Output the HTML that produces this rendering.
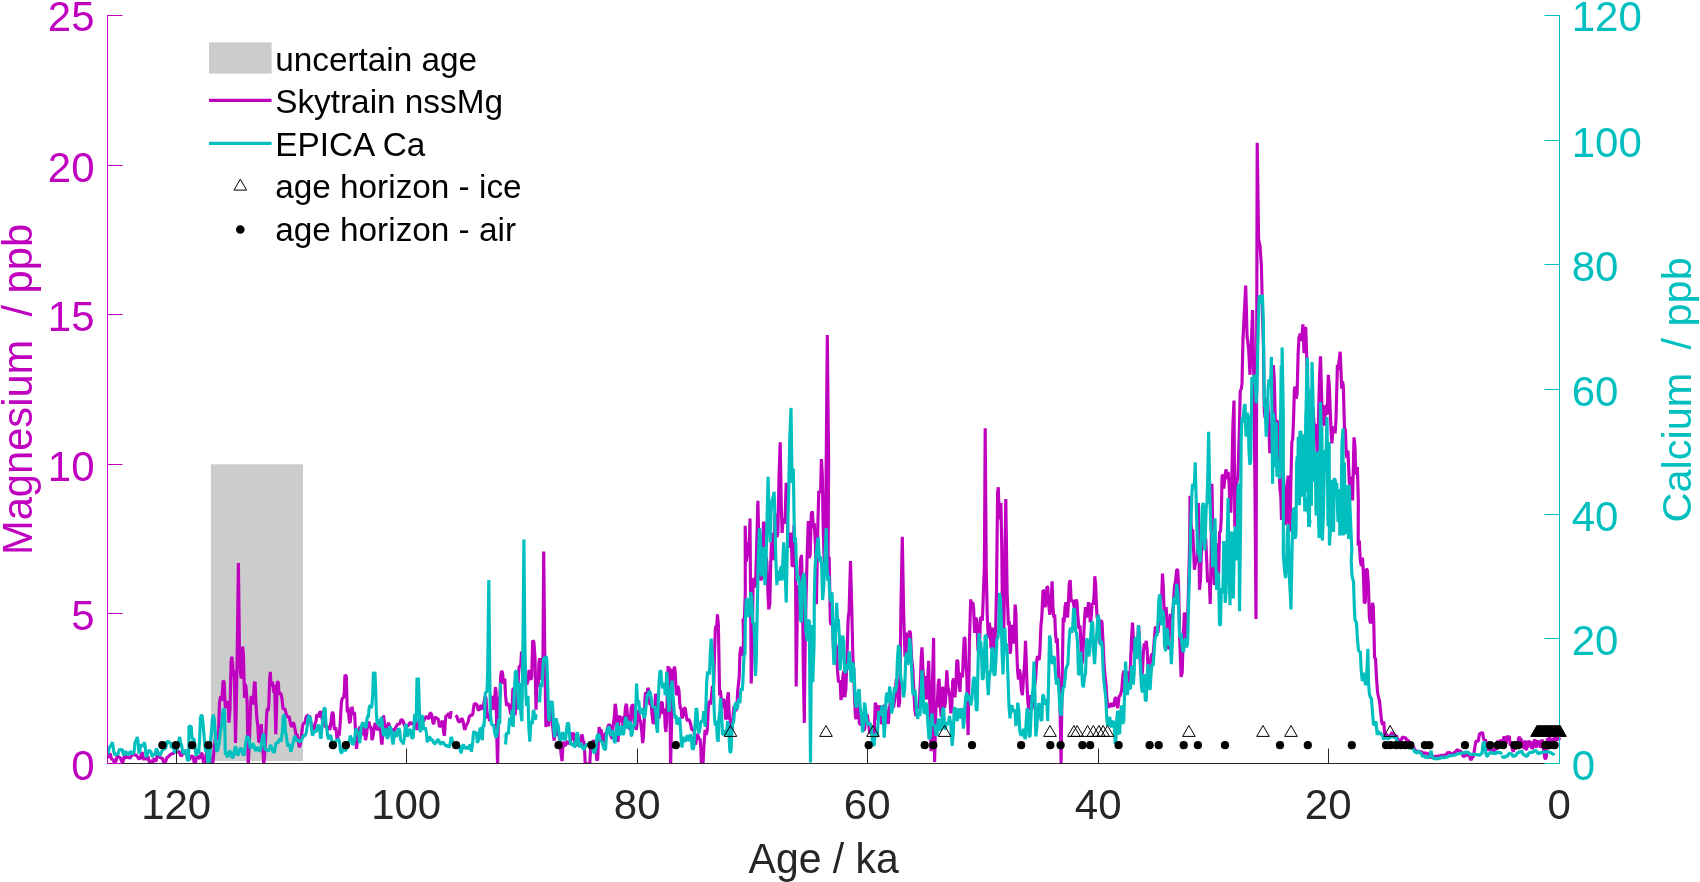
<!DOCTYPE html>
<html><head><meta charset="utf-8"><title>Age / ka</title><style>html,body{margin:0;padding:0;background:#fff}body{width:1700px;height:882px;overflow:hidden}</style></head><body>
<svg width="1700" height="882" viewBox="0 0 1700 882" style="display:block;will-change:transform;opacity:0.999" font-family="'Liberation Sans', Arial, sans-serif">
<rect width="1700" height="882" fill="#fff"/>
<defs><clipPath id="c"><rect x="107.5" y="15.5" width="1460.0" height="748.0"/></clipPath></defs>
<rect x="210.9" y="464.3" width="92.1" height="296.7" fill="#CCCCCC"/>
<path d="M107.7,758.1 L109.0,754.7 L110.3,753.7 L111.2,758.0 L112.1,759.8 L113.0,759.1 L113.8,761.6 L114.9,762.3 L116.1,760.7 L116.9,756.9 L117.8,755.4 L118.7,757.5 L119.6,757.2 L120.5,758.3 L121.4,760.7 L122.2,762.1 L123.1,761.6 L124.0,757.4 L124.9,755.4 L126.0,757.7 L127.1,757.2 L128.4,757.2 L129.8,758.1 L131.1,756.7 L132.4,753.7 L133.3,751.9 L134.2,754.3 L135.1,755.4 L136.4,754.9 L137.7,757.2 L139.0,759.0 L140.4,758.1 L141.3,754.4 L142.1,751.9 L143.0,757.6 L143.9,759.8 L145.0,757.6 L146.1,759.0 L147.0,759.0 L147.9,756.3 L149.2,761.6 L150.1,762.6 L151.0,760.7 L151.9,761.2 L152.7,762.9 L154.1,758.5 L155.0,759.6 L155.8,761.6 L157.2,756.3 L158.5,755.7 L159.8,757.2 L161.1,758.1 L162.5,758.1 L163.8,763.4 L164.9,762.7 L166.0,760.7 L166.9,757.2 L168.2,756.9 L169.5,755.4 L170.9,754.2 L172.2,753.7 L173.5,753.2 L174.8,751.0 L175.7,750.7 L176.6,751.9 L177.5,752.6 L178.4,751.0 L179.3,751.9 L180.2,754.5 L181.0,756.1 L181.9,755.4 L183.0,752.6 L184.1,751.9 L185.5,753.7 L186.8,754.9 L188.1,759.0 L189.6,759.5 L191.1,756.1 L192.5,756.3 L193.4,757.2 L194.3,763.4 L195.2,764.0 L196.1,759.0 L197.4,755.9 L198.7,758.1 L200.0,758.0 L201.4,752.8 L202.4,754.7 L203.4,762.1 L204.5,764.3 L205.4,761.0 L206.2,753.7 L207.1,751.1 L208.0,751.0 L209.1,757.2 L210.2,757.2 L211.1,758.2 L212.0,765.2 L213.1,761.3 L214.2,748.4 L215.5,737.7 L216.6,739.7 L217.7,736.0 L218.1,735.7 L218.8,725.1 L219.5,702.4 L220.6,696.4 L221.7,700.9 L222.4,692.5 L223.1,680.6 L224.1,682.1 L225.3,708.2 L226.5,703.8 L227.5,700.9 L228.2,705.3 L228.9,722.7 L230.0,709.9 L231.1,661.8 L231.8,656.8 L232.6,663.2 L233.3,675.5 L234.0,670.5 L234.7,693.3 L235.5,743.0 L236.3,706.6 L237.2,654.5 L238.4,563.1 L239.5,654.5 L240.5,673.4 L241.3,678.4 L242.0,651.6 L242.7,646.6 L243.4,654.5 L244.5,698.0 L245.2,684.0 L245.9,686.4 L247.1,700.9 L248.2,766.2 L249.5,739.0 L250.7,702.4 L251.4,695.9 L252.1,700.9 L253.2,704.4 L254.3,683.5 L255.1,681.7 L255.8,700.9 L256.9,718.3 L257.8,725.8 L258.7,741.6 L259.4,741.6 L260.1,732.8 L261.3,724.1 L262.3,741.6 L263.0,750.3 L263.8,766.2 L264.8,752.6 L265.9,732.8 L266.7,713.2 L267.4,708.2 L268.1,711.0 L268.8,705.3 L269.6,679.9 L270.3,671.9 L271.0,685.6 L271.7,685.0 L272.5,681.8 L273.2,687.9 L273.9,692.9 L274.6,685.0 L275.8,734.3 L276.5,711.5 L277.2,682.1 L278.3,682.1 L279.0,693.4 L279.7,693.7 L280.8,693.2 L281.9,698.0 L283.0,708.2 L284.1,709.6 L284.8,708.1 L285.5,711.1 L286.6,715.6 L287.7,716.9 L289.1,716.6 L290.6,724.1 L291.7,726.9 L292.8,722.7 L293.9,723.6 L294.9,728.5 L296.0,734.7 L297.1,734.3 L298.2,739.3 L299.3,747.4 L300.4,743.7 L301.5,735.7 L302.6,725.9 L303.7,722.7 L304.7,723.6 L305.8,718.3 L306.9,715.5 L308.0,715.4 L308.7,719.3 L309.5,715.4 L310.5,719.8 L311.6,727.0 L312.7,730.6 L313.8,731.4 L314.9,724.1 L316.0,721.2 L316.7,715.4 L317.4,714.8 L318.2,716.9 L318.9,716.1 L319.6,712.5 L320.3,711.6 L321.1,712.5 L321.8,717.8 L322.5,721.2 L323.2,720.6 L324.0,724.1 L325.4,726.9 L326.9,727.0 L328.3,726.3 L329.8,729.9 L330.9,723.6 L331.9,714.0 L332.7,711.9 L333.4,715.4 L334.1,727.1 L334.8,729.9 L335.6,727.2 L336.3,731.4 L337.0,738.8 L337.7,738.7 L338.5,730.8 L339.2,735.7 L340.3,721.7 L341.4,702.4 L342.5,697.6 L343.5,698.0 L344.3,692.8 L345.0,674.8 L346.3,676.3 L347.3,712.5 L348.1,707.5 L348.8,715.4 L349.5,722.3 L350.2,722.7 L351.2,711.7 L352.1,706.7 L353.0,714.8 L353.9,712.5 L354.6,713.5 L355.3,727.0 L356.5,748.8 L357.5,741.6 L358.2,738.2 L358.9,729.9 L360.0,726.4 L361.1,732.8 L362.2,735.1 L363.3,727.0 L364.4,729.6 L365.5,740.1 L366.6,734.7 L367.6,724.1 L368.4,722.0 L369.1,722.7 L369.8,726.0 L370.5,727.0 L371.3,729.5 L372.0,740.1 L373.1,736.0 L374.2,727.0 L375.3,722.9 L376.3,727.0 L377.4,730.0 L378.5,728.5 L379.6,726.2 L380.7,732.8 L381.4,742.2 L382.1,744.5 L382.9,727.7 L383.6,715.4 L384.3,722.9 L385.1,727.0 L385.8,726.5 L386.5,732.8 L387.2,729.9 L388.0,724.1 L388.7,722.9 L389.4,725.6 L390.5,731.9 L391.6,732.8 L392.3,728.9 L393.0,729.9 L394.5,730.1 L395.9,727.0 L397.4,724.6 L398.8,724.1 L399.9,723.6 L401.0,719.8 L402.1,719.8 L403.2,721.2 L404.3,724.7 L405.4,727.0 L406.4,725.3 L407.5,725.6 L408.6,725.4 L409.7,722.7 L410.8,722.7 L411.9,724.1 L413.3,723.5 L414.8,721.2 L415.9,724.4 L417.0,729.9 L418.1,726.3 L419.1,719.8 L420.6,719.7 L422.0,721.2 L423.5,721.2 L424.9,718.3 L426.4,716.0 L427.8,718.3 L428.9,718.6 L430.0,713.3 L431.1,713.1 L432.2,716.9 L432.9,722.3 L433.7,724.1 L434.7,718.6 L435.8,716.9 L436.9,718.9 L438.0,718.3 L438.7,721.6 L439.5,727.0 L440.5,725.9 L441.6,722.7 L442.4,720.6 L443.1,725.6 L443.8,733.6 L444.5,735.7 L445.3,722.0 L446.0,715.4 L447.1,715.9 L448.2,714.0 L448.9,713.2 L449.6,718.3 L450.3,717.4 L451.1,711.1" fill="none" stroke="#BF00BF" stroke-width="3.15" stroke-linejoin="bevel" clip-path="url(#c)"/>
<path d="M455.4,715.4 L456.9,716.5 L458.3,721.2 L459.8,722.1 L461.2,719.1 L462.3,718.8 L463.4,722.7 L464.1,727.4 L464.8,729.9 L465.9,726.4 L467.0,724.1 L468.1,721.9 L469.2,716.9 L470.6,715.0 L472.1,715.4 L472.8,713.9 L473.5,708.2 L474.3,703.9 L475.0,703.8 L475.8,703.8 L476.9,704.5 L478.0,709.6 L479.1,710.2 L480.2,706.7 L481.2,705.2 L482.3,709.6 L483.4,706.1 L484.5,699.5 L485.2,696.2 L486.0,698.0 L486.7,710.0 L487.4,718.3 L488.5,713.3 L489.6,721.2 L490.3,714.7 L491.0,700.9 L492.1,695.9 L493.2,709.6 L493.9,707.7 L494.7,698.0 L495.4,687.2 L496.1,692.2 L496.8,735.4 L497.6,766.2 L498.3,725.2 L499.0,698.0 L499.9,696.6 L500.8,674.8 L501.7,670.9 L502.6,673.4 L503.4,682.1 L504.1,683.5 L504.8,678.5 L505.5,695.1 L506.6,705.8 L507.7,703.8 L508.8,704.2 L509.9,709.6 L511.0,714.6 L512.1,706.7 L512.8,690.1 L513.5,687.9 L514.2,704.4 L515.0,715.4 L516.1,702.3 L517.1,698.0 L517.9,688.5 L518.6,673.4 L519.3,666.0 L520.1,666.1 L520.8,664.4 L521.5,651.6 L522.2,657.6 L523.0,669.0 L523.7,679.0 L524.4,677.7 L525.1,678.6 L525.9,683.5 L526.9,684.4 L528.0,680.6 L529.1,669.9 L530.2,673.4 L530.9,679.8 L531.7,676.3 L532.7,640.6 L533.8,641.5 L535.0,657.4 L536.0,709.6 L536.7,688.2 L537.5,683.5 L538.2,686.6 L538.9,663.2 L539.6,658.2 L540.4,664.7 L541.1,679.8 L541.8,674.8 L543.0,654.5 L543.7,551.6 L544.6,640.0 L545.9,727.0 L546.7,718.6 L547.6,721.2 L548.7,726.2 L549.8,709.6 L551.2,704.6 L552.7,727.0 L554.1,740.7 L555.6,722.8 L557.0,735.7 L558.5,732.9 L559.9,740.1 L561.0,753.5 L562.1,761.1 L562.8,747.2 L563.6,741.6 L565.0,746.1 L566.5,743.0 L567.7,741.0 L568.9,743.9 L570.1,741.6 L571.2,739.4 L572.3,732.8 L573.4,733.8 L574.5,740.1 L575.5,746.1 L576.6,744.5 L577.7,739.4 L578.8,738.7 L579.9,741.4 L581.0,741.6 L581.7,734.7 L582.4,735.7 L583.2,741.5 L583.9,741.6 L584.6,750.8 L585.3,766.2 L586.8,768.9 L588.2,762.7 L589.7,766.2 L590.4,752.0 L591.1,744.5 L592.2,747.3 L593.3,740.1 L594.8,744.4 L596.2,753.2 L596.9,760.5 L597.7,759.0 L598.4,740.7 L599.1,727.0 L599.8,733.0 L600.6,729.9 L601.3,730.5 L602.0,734.3 L602.7,743.0 L603.5,745.9 L604.6,736.1 L605.6,732.8 L606.7,735.0 L607.8,727.0 L608.9,724.4 L610.0,725.6 L611.1,736.6 L612.3,738.7 L613.0,726.9 L613.7,721.2 L614.4,716.0 L615.2,703.8 L615.9,708.2 L616.6,721.2 L617.3,738.6 L618.1,741.6 L618.8,723.5 L619.5,715.4 L620.6,721.9 L621.7,716.9 L622.4,718.7 L623.1,727.0 L623.9,729.8 L624.6,718.3 L625.5,706.9 L626.5,703.8 L627.3,713.9 L628.2,718.3 L628.9,718.9 L629.7,729.9 L630.4,725.1 L631.1,708.2 L632.2,705.0 L633.3,705.3 L634.0,720.1 L634.7,728.5 L635.5,723.5 L636.2,729.9 L636.9,725.4 L637.6,712.5 L638.4,710.6 L639.1,715.4 L639.8,720.3 L640.5,721.2 L641.6,730.0 L642.7,743.0 L643.4,736.9 L644.2,721.2 L644.9,700.0 L645.6,692.2 L646.7,697.2 L647.8,687.9 L648.5,689.5 L649.2,700.9 L650.0,704.7 L650.7,703.8 L651.4,706.0 L652.1,715.4 L653.2,723.8 L654.3,721.2 L655.5,693.7 L656.5,703.8 L657.2,704.7 L658.0,715.4 L659.0,718.6 L660.1,709.6 L661.2,702.6 L662.3,702.4 L663.0,714.1 L663.8,709.6 L664.5,710.0 L665.2,727.0 L665.9,732.0 L666.7,721.2 L667.4,686.8 L668.1,666.1 L668.8,672.6 L669.6,667.6 L670.6,766.2 L671.7,718.3 L672.5,669.0 L673.2,674.0 L673.9,669.0 L674.6,666.7 L675.4,674.8 L676.1,691.5 L676.8,695.1 L677.9,685.8 L679.0,690.8 L679.7,702.7 L680.4,708.2 L681.2,708.9 L681.9,718.3 L683.0,716.3 L684.1,708.2 L685.2,708.0 L686.2,715.4 L687.3,721.1 L688.4,719.8 L689.5,720.1 L690.6,724.1 L691.7,729.4 L692.8,729.9 L693.5,729.4 L694.2,732.8 L694.9,743.1 L695.7,744.5 L696.8,735.2 L697.8,734.3 L698.9,738.9 L700.0,738.7 L700.7,746.3 L701.5,766.2 L702.2,770.0 L702.9,766.2 L704.0,744.4 L705.1,729.9 L706.2,734.9 L707.3,729.9 L708.4,706.4 L709.5,700.9 L710.5,704.5 L711.6,695.1 L712.4,685.8 L713.1,690.8 L713.8,683.7 L714.5,654.5 L715.3,630.0 L716.0,625.5 L716.7,628.4 L717.4,614.3 L718.4,625.5 L719.6,695.1 L720.3,690.1 L721.1,698.0 L721.8,708.2 L722.5,703.8 L723.6,698.8 L724.7,703.8 L725.6,719.2 L726.6,718.3 L727.4,698.9 L728.3,692.2 L729.5,718.3 L730.3,720.0 L731.2,729.9 L731.9,729.8 L732.7,721.2 L733.8,707.2 L734.8,706.7 L735.9,711.3 L737.0,703.8 L737.7,691.2 L738.5,683.5 L739.2,677.5 L739.9,654.5 L741.0,646.6 L742.1,651.6 L742.8,656.1 L743.5,640.0 L743.1,618.4 L744.2,623.4 L745.3,592.8 L745.2,525.7 L746.1,561.7 L746.9,556.7 L748.3,542.4 L749.2,547.4 L750.0,518.6 L751.2,683.4 L752.1,657.4 L753.1,582.9 L753.9,577.9 L754.8,587.6 L755.6,581.3 L756.4,556.7 L757.9,500.7 L758.7,537.6 L759.5,544.8 L760.7,580.5 L761.7,578.0 L762.6,556.7 L763.5,521.7 L764.3,524.5 L765.1,556.4 L766.0,556.7 L766.9,562.1 L767.9,592.4 L768.8,609.3 L769.8,604.3 L770.8,560.0 L771.9,532.9 L772.9,560.0 L773.8,556.7 L775.0,516.9 L776.2,513.8 L777.0,537.2 L777.9,532.9 L779.0,477.0 L780.2,442.4 L781.2,501.6 L782.1,532.9 L783.1,518.3 L784.0,523.3 L785.1,521.3 L786.2,482.9 L787.1,502.2 L788.1,542.4 L789.3,547.4 L790.5,532.9 L791.3,535.2 L792.1,566.2 L793.1,565.6 L794.0,525.2 L795.5,561.4 L796.2,686.6 L797.4,608.6 L798.5,585.0 L799.5,590.0 L800.5,560.0 L801.5,555.0 L802.5,590.0 L803.4,674.2 L804.3,722.9 L805.1,651.7 L806.0,600.0 L807.1,556.7 L808.3,521.0 L809.3,557.9 L810.2,554.3 L811.3,513.5 L812.4,511.4 L813.3,528.3 L814.3,523.3 L815.4,544.6 L816.4,604.3 L817.9,523.3 L818.8,490.7 L819.8,492.4 L820.6,490.4 L821.4,459.0 L822.3,474.3 L823.1,523.3 L824.5,573.3 L826.0,485.2 L827.3,335.0 L828.6,461.4 L828.1,557.0 L829.2,557.7 L830.3,621.7 L831.2,625.2 L832.1,610.9 L833.5,648.7 L834.6,653.7 L835.6,643.3 L836.6,648.3 L837.5,670.3 L838.5,682.1 L839.4,681.1 L840.2,681.9 L841.0,699.9 L842.0,695.0 L842.9,675.7 L843.9,670.7 L844.8,697.3 L845.9,689.0 L847.0,656.8 L848.1,619.4 L849.1,610.9 L850.5,561.0 L851.8,610.9 L852.9,656.8 L853.7,670.2 L854.5,697.3 L855.5,717.6 L856.4,718.8 L857.4,701.0 L858.3,702.6 L859.4,723.7 L860.5,724.2 L861.8,722.0 L863.2,729.6 L864.5,729.9 L865.9,718.8 L867.2,714.4 L868.6,724.2 L869.9,733.8 L871.3,729.6 L872.6,730.2 L874.0,737.7 L875.3,702.6 L876.2,705.5 L877.2,718.8 L878.3,718.3 L879.3,705.3 L880.4,710.6 L881.5,724.2 L882.9,721.0 L884.2,705.3 L885.6,705.5 L886.9,718.8 L888.2,723.8 L889.6,708.0 L890.9,697.6 L892.3,702.6 L893.6,707.6 L895.0,697.3 L896.3,679.2 L897.7,681.1 L898.6,707.2 L899.6,702.6 L900.9,610.9 L902.3,536.7 L903.6,610.9 L905.0,656.8 L905.9,634.0 L906.9,633.9 L907.7,653.7 L908.5,648.7 L909.4,630.8 L910.4,632.5 L911.7,659.5 L912.8,668.6 L913.9,691.9 L914.8,708.8 L915.8,716.1 L917.1,706.7 L918.5,708.0 L919.4,703.1 L920.4,681.1 L921.2,657.4 L922.0,647.3 L922.9,668.8 L923.9,681.1 L924.8,676.1 L925.7,697.3 L926.6,699.1 L927.4,683.8 L928.7,660.8 L930.1,718.8 L931.1,751.2 L932.2,691.9 L933.6,637.9 L934.6,762.0 L936.0,702.6 L937.1,707.6 L938.2,683.8 L939.1,678.8 L940.0,697.3 L941.0,716.3 L941.9,713.4 L942.7,686.9 L943.6,691.9 L944.5,707.6 L945.4,702.6 L946.8,670.3 L947.9,687.2 L948.9,691.9 L949.9,698.3 L950.8,713.4 L951.8,706.2 L952.7,681.1 L953.8,678.5 L954.9,697.3 L955.8,687.8 L956.8,660.8 L957.8,660.5 L958.9,681.1 L960.0,691.9 L960.8,672.9 L961.6,674.4 L962.5,677.4 L963.4,653.7 L964.2,637.7 L965.0,638.2 L965.9,666.3 L966.8,674.4 L968.1,735.1 L969.4,643.4 L970.7,599.4 L971.7,607.0 L972.7,602.0 L973.6,607.6 L974.6,633.0 L975.8,617.5 L976.9,620.8 L977.9,648.6 L978.8,653.6 L979.7,638.2 L980.6,617.8 L981.5,617.5 L982.3,620.7 L983.1,602.0 L984.4,565.8 L985.2,428.3 L986.2,565.8 L987.2,614.2 L988.3,638.2 L989.2,622.9 L990.1,627.9 L991.0,648.4 L991.9,643.4 L992.6,627.7 L993.4,630.5 L994.3,653.6 L995.2,648.6 L996.5,591.7 L997.6,492.2 L998.3,487.2 L999.1,514.2 L1000.0,519.2 L1000.9,502.8 L1001.7,544.3 L1002.5,617.5 L1003.8,630.5 L1004.8,565.8 L1005.8,498.9 L1007.1,591.7 L1008.4,625.3 L1009.2,621.0 L1010.0,653.7 L1010.7,650.7 L1011.5,625.3 L1012.4,626.7 L1013.3,643.4 L1014.2,640.3 L1015.1,604.6 L1015.9,613.3 L1016.7,648.6 L1017.6,670.7 L1018.5,679.6 L1019.4,669.4 L1020.3,674.4 L1021.3,689.1 L1022.4,695.1 L1023.7,674.4 L1024.6,664.3 L1025.5,640.8 L1026.2,659.2 L1027.0,684.7 L1027.9,702.1 L1028.8,710.6 L1029.7,698.4 L1030.6,695.1 L1031.7,709.7 L1032.7,705.4 L1033.7,689.1 L1034.8,684.7 L1035.7,677.8 L1036.6,661.5 L1037.5,656.0 L1038.4,658.9 L1039.2,659.9 L1039.9,651.1 L1040.9,626.0 L1041.8,617.5 L1043.0,590.4 L1044.1,591.0 L1045.1,607.2 L1046.0,600.5 L1046.9,586.5 L1047.8,587.3 L1048.7,604.6 L1049.8,614.8 L1050.8,609.8 L1052.1,581.4 L1053.0,607.6 L1053.9,617.5 L1054.7,614.6 L1055.5,633.0 L1056.4,643.2 L1057.3,638.2 L1058.6,674.4 L1059.8,695.1 L1061.1,764.9 L1061.9,695.1 L1063.2,617.5 L1064.1,622.5 L1065.0,607.2 L1065.9,602.2 L1066.8,612.4 L1067.6,617.4 L1068.4,602.0 L1069.3,583.2 L1070.2,580.1 L1071.1,599.3 L1072.0,602.0 L1073.0,600.0 L1074.1,607.2 L1075.1,608.9 L1076.1,599.4 L1077.0,602.2 L1077.9,617.5 L1079.0,628.9 L1080.0,625.3 L1080.8,640.5 L1081.6,664.1 L1082.5,661.7 L1083.4,643.4 L1084.5,619.3 L1085.5,607.2 L1086.5,617.4 L1087.6,612.4 L1088.5,602.2 L1089.4,607.2 L1090.3,622.5 L1091.2,617.5 L1092.2,603.0 L1093.3,604.6 L1094.0,596.6 L1094.8,576.2 L1095.6,584.5 L1096.4,604.6 L1097.1,617.7 L1097.9,615.0 L1098.8,619.7 L1099.7,643.4 L1101.0,620.1 L1102.0,622.3 L1103.1,643.4 L1104.0,662.4 L1104.9,674.4 L1105.8,681.9 L1106.7,695.1 L1107.5,704.7 L1108.3,708.0 L1109.3,703.4 L1110.3,707.2 L1111.4,702.8 L1112.6,706.3 L1113.9,705.4 L1115.0,698.3 L1116.0,697.7 L1116.9,705.0 L1117.8,708.0 L1119.1,696.6 L1120.4,695.1 L1121.7,690.2 L1123.0,674.4 L1123.9,670.9 L1124.8,684.7 L1125.8,688.4 L1126.9,674.4 L1127.9,671.6 L1128.9,684.7 L1129.8,682.6 L1130.7,658.9 L1131.6,637.6 L1132.5,622.7 L1133.6,643.2 L1134.6,653.7 L1135.7,643.6 L1136.7,648.6 L1137.6,644.3 L1138.5,625.3 L1139.4,639.8 L1140.3,664.1 L1141.3,676.8 L1142.4,671.8 L1143.4,652.0 L1144.4,643.4 L1145.3,648.0 L1146.2,640.8 L1147.2,650.5 L1148.1,669.2 L1149.1,670.7 L1150.1,664.1 L1151.2,656.2 L1152.2,653.7 L1153.1,655.7 L1154.0,643.4 L1155.3,626.9 L1156.6,627.9 L1157.9,632.9 L1159.2,620.1 L1160.1,598.5 L1161.0,594.3 L1161.8,594.3 L1162.5,573.6 L1163.4,589.7 L1164.3,617.5 L1165.2,618.1 L1166.1,607.2 L1166.9,617.1 L1167.7,648.6 L1168.6,647.9 L1169.5,630.5 L1170.4,613.9 L1171.3,617.5 L1172.4,615.0 L1173.4,604.6 L1174.4,586.9 L1175.5,581.4 L1176.7,569.7 L1177.7,569.8 L1178.6,586.5 L1179.8,640.8 L1181.1,677.0 L1182.2,672.3 L1183.2,638.2 L1184.4,612.5 L1185.5,617.5 L1186.3,643.2 L1187.1,638.2 L1188.4,591.7 L1189.7,540.0 L1190.0,495.7 L1191.0,524.0 L1191.9,531.4 L1192.7,529.4 L1193.6,550.5 L1194.4,569.8 L1195.2,564.8 L1196.2,557.4 L1197.1,562.4 L1198.3,502.9 L1199.5,589.8 L1200.5,579.9 L1201.4,550.5 L1202.3,532.4 L1203.1,531.4 L1203.9,548.3 L1204.8,543.3 L1205.7,538.3 L1206.7,560.0 L1207.6,582.2 L1208.6,579.0 L1209.4,582.3 L1210.2,604.0 L1211.1,555.6 L1211.9,483.8 L1213.3,555.2 L1214.2,584.8 L1215.0,581.4 L1215.8,554.0 L1216.7,543.3 L1217.6,573.6 L1218.6,574.3 L1219.5,532.3 L1220.5,531.4 L1221.3,517.3 L1222.1,475.5 L1223.0,475.3 L1223.8,488.6 L1225.2,474.3 L1226.1,469.3 L1226.9,479.0 L1228.1,471.9 L1229.0,481.8 L1230.0,507.6 L1230.8,512.6 L1231.7,483.8 L1232.9,424.6 L1234.0,400.5 L1234.8,526.7 L1235.6,494.9 L1236.4,483.8 L1237.9,476.7 L1239.3,431.9 L1240.2,391.5 L1241.2,389.0 L1242.0,383.9 L1242.9,341.4 L1244.3,312.9 L1245.7,285.5 L1247.1,336.7 L1248.6,348.6 L1250.0,374.8 L1251.4,341.4 L1252.6,310.0 L1253.8,374.8 L1254.9,478.8 L1256.0,619.0 L1257.2,142.7 L1258.6,239.0 L1260.0,246.2 L1261.4,266.0 L1262.6,317.6 L1263.5,348.8 L1264.3,412.9 L1265.2,417.9 L1266.2,403.3 L1267.4,398.3 L1268.6,417.6 L1269.8,453.3 L1270.6,434.2 L1271.4,436.7 L1272.4,413.6 L1273.3,365.2 L1274.3,380.7 L1275.2,417.6 L1276.1,425.0 L1276.9,420.0 L1277.7,424.5 L1278.6,451.0 L1280.0,490.0 L1280.8,495.8 L1281.5,520.0 L1282.2,506.5 L1283.0,470.0 L1284.0,486.0 L1285.0,525.0 L1286.4,519.5 L1287.3,486.1 L1288.1,475.5 L1289.0,524.9 L1290.0,531.4 L1291.0,476.1 L1291.9,441.4 L1292.7,439.1 L1293.6,417.6 L1294.4,389.5 L1295.2,386.7 L1296.2,398.8 L1297.1,393.8 L1298.1,354.2 L1299.0,336.7 L1299.3,338.6 L1300.1,333.6 L1301.0,341.0 L1301.9,337.2 L1302.9,324.3 L1304.0,352.9 L1304.9,350.1 L1305.7,326.7 L1306.9,362.4 L1308.1,405.2 L1308.9,414.5 L1309.8,433.8 L1310.7,430.4 L1311.7,412.4 L1312.9,407.4 L1314.0,421.9 L1315.0,429.3 L1316.0,424.3 L1317.1,452.9 L1318.0,439.5 L1318.8,405.2 L1319.6,375.2 L1320.5,356.4 L1321.9,405.2 L1322.7,405.2 L1323.6,424.3 L1324.5,425.1 L1325.5,410.0 L1326.3,405.0 L1327.1,414.8 L1328.3,374.8 L1329.3,386.2 L1330.2,410.0 L1331.1,431.6 L1331.9,443.3 L1333.1,426.8 L1334.3,429.0 L1335.1,433.3 L1336.0,419.5 L1337.4,364.8 L1338.2,369.8 L1339.0,361.2 L1340.2,351.7 L1341.7,388.6 L1342.5,381.2 L1343.3,386.2 L1344.5,429.0 L1345.4,429.1 L1346.2,452.9 L1347.0,457.9 L1347.9,450.5 L1349.3,481.4 L1350.1,486.4 L1351.0,476.7 L1351.8,480.1 L1352.6,500.5 L1354.0,437.4 L1354.9,445.6 L1355.7,469.5 L1356.5,474.5 L1357.4,467.1 L1358.3,500.5 L1358.2,545.6 L1359.3,540.6 L1360.3,560.8 L1361.4,565.8 L1362.5,557.7 L1363.4,574.1 L1364.3,603.3 L1365.3,602.1 L1366.3,568.9 L1367.3,569.9 L1368.4,584.9 L1369.4,618.5 L1370.5,623.5 L1371.6,615.5 L1372.5,602.9 L1373.4,607.9 L1374.6,658.0 L1375.5,658.3 L1376.4,676.2 L1377.5,691.9 L1378.6,697.5 L1379.6,701.5 L1380.7,712.7 L1381.6,720.9 L1382.5,724.9 L1383.7,721.4 L1384.9,736.9 L1386.2,734.0 L1389.1,738.1 L1392.1,732.2 L1395.0,738.4 L1396.4,735.1 L1397.7,740.6 L1399.1,739.4 L1400.8,741.5 L1402.5,736.7 L1404.3,737.9 L1405.6,737.6 L1407.0,740.6 L1408.4,740.4 L1409.8,743.2 L1411.1,743.3 L1412.5,745.6 L1413.5,746.9 L1414.6,749.5 L1415.6,750.7 L1417.0,751.6 L1418.3,751.0 L1419.7,751.8 L1421.4,751.7 L1423.1,753.4 L1424.9,752.8 L1425.9,753.7 L1426.9,752.8 L1427.9,753.8 L1429.0,754.6 L1430.0,756.9 L1431.4,757.7 L1432.7,756.6 L1434.1,756.9 L1435.5,756.3 L1436.9,756.8 L1438.2,755.9 L1439.6,756.6 L1441.0,755.2 L1442.4,755.9 L1443.4,755.0 L1444.4,755.6 L1445.4,754.9 L1446.5,754.5 L1447.5,752.6 L1448.5,752.8 L1449.9,752.5 L1451.3,754.0 L1452.6,753.8 L1453.7,753.9 L1454.7,752.0 L1455.7,751.8 L1456.8,750.0 L1457.8,749.7 L1458.8,751.6 L1459.9,750.6 L1460.9,751.8 L1461.9,752.6 L1462.9,755.9 L1464.3,756.7 L1465.7,754.2 L1467.1,755.9 L1468.1,753.2 L1469.1,753.8 L1470.1,758.5 L1471.2,760.0 L1472.2,757.2 L1473.2,756.9 L1474.0,752.9 L1474.8,747.6 L1475.6,742.7 L1476.3,740.4 L1477.4,741.8 L1478.4,740.4 L1479.2,735.4 L1479.9,733.2 L1481.2,733.5 L1482.5,732.2 L1483.5,738.4 L1484.6,741.0 L1485.6,739.4 L1486.6,747.6 L1487.6,750.4 L1488.7,747.9 L1489.7,750.7 L1490.7,748.1 L1491.8,752.4 L1492.8,749.7 L1494.2,751.7 L1495.5,747.7 L1496.9,749.7 L1497.9,740.4 L1498.7,747.0 L1499.5,747.6 L1500.3,741.9 L1501.0,739.4 L1501.8,745.6 L1502.6,745.6 L1503.3,740.0 L1504.1,736.3 L1505.2,743.2 L1506.2,743.5 L1507.0,737.4 L1507.7,735.8 L1508.5,738.4 L1509.3,735.8 L1510.3,745.6 L1511.3,741.5 L1512.4,749.7 L1513.4,751.8 L1514.4,743.5 L1515.4,749.7 L1516.5,741.5 L1517.5,747.6 L1518.5,738.4 L1519.6,736.8 L1520.6,745.6 L1521.1,738.4 L1522.1,747.6 L1523.2,741.5 L1524.2,749.2 L1524.9,740.4 L1525.7,747.6 L1526.6,750.2 L1527.3,741.5 L1528.0,747.6 L1528.8,740.4 L1529.9,746.6 L1530.9,741.5 L1531.9,748.7 L1532.9,747.6 L1534.0,741.5 L1535.0,739.4 L1536.2,747.6 L1537.6,740.4 L1538.3,743.4 L1539.1,740.4 L1540.2,747.6 L1541.2,745.6 L1542.2,739.4 L1543.2,747.6 L1544.0,751.2 L1544.8,757.9 L1545.6,759.1 L1546.3,755.9 L1547.4,738.4 L1548.4,741.0 L1549.4,737.4 L1550.4,739.5 L1551.5,747.6 L1552.5,746.9 L1553.5,738.5 L1554.6,738.4 L1555.6,735.6 L1556.6,740.6 L1557.7,737.4 L1558.7,740.0 L1559.7,737.4" fill="none" stroke="#BF00BF" stroke-width="3.15" stroke-linejoin="bevel" clip-path="url(#c)"/>
<path d="M107.7,754.5 L108.8,749.8 L109.9,746.6 L111.2,745.3 L112.5,742.2 L113.8,751.9 L115.2,755.4 L116.1,753.6 L116.9,754.5 L118.0,754.1 L119.1,750.1 L120.2,749.1 L121.2,750.2 L122.2,749.2 L123.1,753.3 L124.0,755.4 L125.1,752.0 L126.2,751.9 L127.5,754.2 L128.9,754.5 L130.2,751.3 L131.5,752.8 L132.9,754.0 L134.2,751.0 L135.1,742.2 L136.2,740.8 L137.3,736.9 L138.2,742.9 L139.0,753.7 L140.4,747.5 L141.3,744.4 L142.1,745.7 L143.2,746.0 L144.3,742.2 L145.2,746.2 L146.1,757.2 L147.2,755.3 L148.3,751.0 L149.7,750.6 L151.0,751.9 L152.3,757.2 L153.4,753.4 L154.5,755.4 L155.4,753.5 L156.3,748.4 L157.6,750.9 L158.9,755.4 L160.3,754.8 L161.6,751.9 L162.9,749.2 L164.2,749.2 L165.6,748.2 L166.9,742.2 L168.1,740.9 L169.2,743.4 L170.4,742.2 L171.3,746.9 L172.2,747.5 L173.4,746.8 L174.6,752.5 L175.7,751.0 L177.1,749.7 L178.4,743.1 L179.7,736.9 L180.6,743.1 L181.5,744.8 L182.8,752.8 L183.9,753.4 L185.0,750.1 L186.1,751.0 L187.2,759.8 L188.6,760.7 L189.0,726.3 L190.3,726.3 L191.2,726.5 L192.1,737.7 L193.0,739.8 L193.9,738.6 L195.2,747.5 L196.1,755.8 L197.0,753.7 L197.8,749.4 L198.7,753.7 L199.6,739.6 L200.5,717.4 L201.4,714.8 L202.3,716.5 L203.6,729.8 L204.9,746.6 L205.8,751.6 L206.7,746.6 L207.6,760.7 L208.7,765.1 L209.8,759.8 L210.7,739.5 L211.5,732.0 L212.4,719.2 L213.3,714.5 L214.2,719.2 L215.1,731.6 L216.4,751.0 L217.7,750.4 L219.1,743.1 L220.4,732.1 L221.7,725.4 L223.0,711.2 L223.8,708.4 L224.6,712.5 L225.3,754.6 L226.0,752.5 L226.8,756.1 L227.8,756.8 L228.9,751.7 L230.4,751.3 L231.8,757.5 L233.3,757.3 L234.7,748.8 L235.8,746.4 L236.9,753.2 L238.0,755.5 L239.1,751.7 L240.5,747.8 L242.0,750.3 L243.1,755.2 L244.2,754.6 L245.6,743.6 L247.1,735.7 L247.8,737.6 L248.5,737.2 L249.2,739.9 L250.0,747.4 L251.1,748.2 L252.1,744.5 L253.6,744.1 L255.1,750.3 L256.1,750.2 L257.2,747.4 L258.3,748.2 L259.4,751.7 L260.9,748.1 L262.3,738.7 L263.0,734.5 L263.8,734.3 L264.5,744.6 L265.2,750.3 L266.3,749.3 L267.4,750.3 L268.5,751.1 L269.6,748.8 L270.6,744.8 L271.7,748.1 L273.2,752.3 L274.6,751.7 L275.7,743.5 L276.8,743.0 L277.9,743.0 L279.0,740.1 L280.1,738.6 L281.2,741.6 L282.3,731.9 L283.3,715.4 L284.5,715.4 L285.5,732.8 L286.2,734.6 L287.0,741.6 L288.1,746.6 L289.1,744.5 L289.9,745.1 L290.6,751.7 L291.7,749.2 L292.8,744.5 L293.9,738.8 L294.9,735.7 L296.0,741.2 L297.1,740.1 L298.2,739.8 L299.3,741.6 L300.7,741.5 L302.2,738.7 L303.7,735.5 L305.1,735.7 L306.2,733.1 L307.3,725.6 L308.0,717.9 L308.7,715.4 L309.5,717.9 L310.2,716.9 L310.9,721.4 L311.6,729.9 L312.4,735.4 L313.1,734.3 L314.2,730.7 L315.3,731.4 L316.3,731.4 L317.4,727.0 L318.5,724.7 L319.6,728.5 L320.3,737.0 L321.1,738.7 L321.8,728.7 L322.5,721.2 L323.2,716.2 L324.0,708.2 L325.1,708.2 L326.1,725.6 L326.9,729.0 L327.6,735.7 L328.7,739.4 L329.8,735.7 L330.9,735.7 L331.9,741.6 L333.0,747.7 L334.1,747.4 L335.6,741.0 L337.0,740.1 L337.7,740.7 L338.5,738.7 L339.6,743.0 L340.6,751.7 L341.7,753.3 L342.8,748.8 L343.9,748.0 L345.0,750.3 L345.9,750.3 L347.3,745.0 L348.8,741.6 L349.5,740.6 L350.2,735.7 L351.3,738.3 L352.4,744.5 L353.5,743.8 L354.6,740.1 L355.3,733.1 L356.0,728.5 L357.1,732.3 L358.2,732.8 L358.9,734.1 L359.7,743.0 L360.4,736.3 L361.1,727.0 L362.6,722.6 L364.0,724.1 L365.1,727.8 L366.2,727.0 L366.9,719.4 L367.6,715.4 L368.4,717.4 L369.1,708.2 L370.2,705.0 L371.3,708.2 L372.0,704.0 L372.7,695.1 L373.4,671.9 L374.2,676.0 L374.9,671.9 L375.6,687.2 L376.3,712.5 L377.1,722.7 L377.8,724.1 L378.9,719.1 L380.0,727.0 L380.7,725.8 L381.4,716.9 L382.1,720.8 L382.9,732.8 L384.0,736.1 L385.1,728.5 L386.1,730.5 L387.2,738.7 L388.3,736.5 L389.4,727.0 L390.5,726.8 L391.6,732.8 L392.3,740.4 L393.0,744.5 L394.1,736.2 L395.2,731.4 L396.3,736.8 L397.4,734.3 L398.5,728.4 L399.6,729.9 L400.6,739.8 L401.7,741.6 L402.5,739.7 L403.2,744.5 L404.3,738.4 L405.4,725.6 L406.1,724.5 L406.8,727.0 L407.5,736.6 L408.3,734.3 L409.4,729.8 L410.4,729.9 L411.9,738.5 L413.3,737.2 L414.1,722.3 L414.8,714.0 L415.5,722.0 L416.2,721.2 L417.0,677.7 L417.7,681.8 L418.4,677.7 L419.1,698.9 L419.9,729.9 L420.6,732.1 L421.3,721.2 L422.0,715.0 L422.8,718.3 L423.5,727.3 L424.2,729.9 L425.3,727.3 L426.4,732.8 L427.1,741.2 L427.8,741.6 L428.9,737.1 L430.0,737.2 L430.7,739.3 L431.5,740.1 L432.6,739.9 L433.7,743.0 L435.1,743.9 L436.6,741.6 L437.6,739.9 L438.7,740.1 L439.8,743.1 L440.9,744.5 L442.4,742.0 L443.8,743.0 L445.3,745.5 L446.7,745.9 L447.8,745.4 L448.9,747.4 L450.0,744.4 L451.1,737.2 L451.8,738.0 L452.5,741.6 L454.0,745.5 L455.4,747.4 L456.9,745.8 L458.3,747.7 L459.8,745.9 L460.5,751.7 L461.2,753.2 L462.3,746.8 L463.4,744.5 L464.5,748.6 L465.6,747.4 L466.7,747.1 L467.7,748.8 L468.8,748.1 L469.9,744.5 L470.6,745.4 L471.4,751.7 L472.5,744.5 L473.5,732.8 L474.3,731.2 L475.0,734.3 L475.8,732.8 L476.5,732.4 L477.3,743.0 L478.3,740.6 L479.4,732.8 L480.2,728.1 L480.9,728.5 L481.6,737.3 L482.3,740.1 L483.1,724.6 L483.8,727.0 L484.5,718.4 L485.2,693.7 L486.2,692.2 L487.0,690.8 L487.7,669.0 L488.8,579.9 L489.7,669.0 L490.3,712.5 L491.4,723.4 L492.5,725.6 L493.6,724.5 L494.7,732.8 L496.1,737.8 L497.6,729.9 L498.7,719.1 L499.7,724.1 L500.5,683.5 L501.0,683.5" fill="none" stroke="#00BFBF" stroke-width="3.15" stroke-linejoin="bevel" clip-path="url(#c)"/>
<path d="M503.7,735.7 L504.5,735.7" fill="none" stroke="#00BFBF" stroke-width="3.15" stroke-linejoin="bevel" clip-path="url(#c)"/>
<path d="M505.5,744.5 L506.6,733.0 L507.7,732.8 L508.4,734.3 L509.2,722.7 L509.9,717.7 L510.6,725.6 L511.3,721.4 L512.1,709.6 L513.2,727.0 L514.2,695.1 L515.3,671.9 L516.4,670.5 L517.6,687.9 L518.6,709.6 L519.3,682.9 L520.1,687.9 L520.8,712.5 L521.9,721.2 L523.0,640.0 L523.9,539.5 L524.8,640.0 L525.9,695.1 L526.6,705.9 L527.3,700.9 L528.0,695.9 L528.8,727.0 L529.8,741.6 L530.7,725.4 L531.7,721.2 L532.4,724.0 L533.1,712.5 L533.8,710.0 L534.6,716.9 L535.3,719.9 L536.0,714.0" fill="none" stroke="#00BFBF" stroke-width="3.15" stroke-linejoin="bevel" clip-path="url(#c)"/>
<path d="M539.6,702.4 L540.4,686.2 L541.1,683.5 L541.8,687.1 L542.5,676.3 L543.6,658.8 L544.7,657.4 L545.4,662.4 L546.2,656.0 L546.9,661.3 L547.6,683.5 L548.3,707.4 L549.1,721.2 L549.8,702.7 L550.5,700.9 L551.2,705.9 L552.0,700.9 L552.7,707.1 L553.4,721.2 L554.1,732.0 L554.9,737.2 L555.6,723.2 L556.3,718.3 L557.0,723.6 L557.8,724.1 L558.5,727.5 L559.2,735.7 L560.3,741.5 L561.4,738.7 L562.5,732.2 L563.6,734.3 L564.7,740.1 L565.7,738.7 L566.6,729.3 L567.5,722.7 L568.7,724.1 L569.4,731.6 L570.1,741.6 L571.2,744.8 L572.3,744.5 L573.4,743.3 L574.5,747.4 L575.5,744.3 L576.6,734.3 L577.4,732.2 L578.1,735.7 L578.8,745.1 L579.5,747.4 L580.6,743.3 L581.7,744.5 L583.2,749.3 L584.6,748.8 L586.1,744.8 L587.5,744.5 L589.0,744.7 L590.4,741.6 L591.9,744.0 L593.3,751.5 L594.8,753.2 L595.9,747.9 L596.9,737.2 L598.0,733.9 L599.1,735.7 L600.2,740.8 L601.3,741.6 L602.4,742.3 L603.5,747.4 L604.6,749.8 L605.6,748.8 L606.4,735.4 L607.1,728.5 L607.8,730.5 L608.5,727.0 L609.3,727.0 L610.0,734.3 L610.8,735.7 L611.9,730.3 L613.0,732.8 L614.1,740.5 L615.2,743.0 L616.2,731.1 L617.3,722.7 L618.4,731.6 L619.5,735.7 L620.6,726.5 L621.7,727.0 L622.8,734.9 L623.9,732.8 L624.9,721.5 L626.0,716.9 L627.1,728.0 L628.2,727.0 L629.3,721.2 L630.4,722.7 L631.1,735.4 L631.8,735.7 L632.9,727.7 L634.0,724.1 L634.7,726.1 L635.5,716.9 L636.6,683.5 L637.4,698.9 L638.1,700.9 L638.9,702.2 L639.8,711.1 L640.9,713.6 L642.0,708.2 L643.1,711.0 L644.2,718.3 L645.3,714.0 L646.3,703.8 L647.1,696.3 L647.8,693.7 L648.5,695.7 L649.2,690.8 L650.3,692.8 L651.4,699.5 L652.5,706.8 L653.6,706.7 L654.7,707.1 L655.8,712.5 L656.6,727.3 L657.5,732.8 L658.2,703.8 L659.0,683.5 L660.1,670.5 L660.9,671.6 L661.6,680.6 L662.7,688.5 L663.8,683.5 L664.5,684.4 L665.2,695.1 L665.9,689.9 L666.7,671.9 L667.4,678.8 L668.1,700.9 L668.8,711.8 L669.6,709.6 L670.3,692.0 L671.0,689.3 L672.0,680.6 L673.2,698.0 L674.3,713.7 L675.4,718.3 L676.1,715.5 L676.8,724.1 L677.9,723.2 L679.0,718.3 L679.7,718.4 L680.4,727.0 L681.2,740.1 L681.9,747.4 L683.0,739.9 L684.1,737.2 L685.2,741.8 L686.2,738.7 L687.3,735.1 L688.4,740.1 L689.5,740.3 L690.6,734.3 L691.3,737.8 L692.0,747.4 L692.9,749.7 L693.8,747.4 L694.9,727.0 L696.1,708.2 L697.0,710.2 L697.8,727.0 L698.9,733.5 L700.0,728.5 L701.0,721.1 L701.9,721.2 L702.8,722.1 L703.7,711.1 L704.4,716.3 L705.1,727.0 L705.8,710.0 L706.6,683.5 L707.6,671.7 L708.7,673.4 L709.5,674.2 L710.2,654.5 L711.2,638.5 L712.4,654.5 L713.1,665.7 L713.8,698.0 L714.5,718.9 L715.3,725.6 L716.0,720.6 L716.7,727.0 L717.4,738.9 L718.2,741.6 L718.9,719.4 L719.6,712.5 L720.6,698.0 L721.8,718.3 L722.5,734.5 L723.2,734.3 L724.3,730.1 L725.4,732.8 L726.5,735.0 L727.6,721.2 L728.7,728.7 L729.8,750.3 L730.5,753.1 L731.2,748.8 L731.9,731.2 L732.7,724.1 L733.8,720.8 L734.8,706.7 L735.6,702.8 L736.3,703.8 L737.0,709.3 L737.7,706.7 L738.5,699.1 L739.2,700.9 L739.9,703.2 L740.6,692.2 L741.4,688.2 L742.1,690.8 L742.8,684.2 L743.5,666.1 L744.3,653.9 L745.0,654.5 L745.3,622.6 L746.3,599.2 L747.4,599.2 L748.5,617.0 L749.5,612.0 L750.6,592.1 L751.7,597.1 L752.7,622.9 L753.8,622.6 L754.6,636.6 L755.5,675.9 L756.2,661.1 L757.0,622.6 L758.3,556.7 L759.5,528.1 L760.4,536.2 L761.2,573.3 L762.1,576.2 L763.1,547.1 L764.0,551.1 L765.0,585.2 L765.8,571.6 L766.7,532.9 L768.1,476.9 L769.2,517.7 L770.2,542.4 L771.1,511.2 L771.9,501.9 L773.3,496.0 L774.2,491.8 L775.0,523.3 L776.0,563.7 L776.9,585.2 L777.7,570.7 L778.6,575.7 L779.4,580.7 L780.2,571.0 L781.2,566.0 L782.1,580.5 L783.6,542.4 L784.9,562.6 L786.2,602.4 L787.4,542.4 L788.8,485.2 L789.8,437.6 L791.0,407.9 L792.1,482.9 L793.3,468.6 L794.5,542.4 L795.5,537.4 L796.4,563.8 L797.4,580.7 L798.3,575.7 L799.5,585.4 L800.7,620.5 L801.5,622.1 L802.4,580.5 L803.6,573.1 L804.8,578.1 L805.9,630.4 L807.1,640.8 L808.2,620.1 L809.3,621.0 L810.5,762.5 L811.6,625.0 L812.8,682.3 L814.1,644.0 L814.3,600.0 L815.1,565.5 L816.0,556.7 L817.4,542.4 L818.2,537.4 L819.0,554.3 L819.9,561.7 L820.7,556.7 L821.7,566.7 L822.6,600.0 L823.8,585.6 L825.0,556.7 L826.2,528.1 L827.0,569.5 L827.9,580.5 L828.8,575.5 L829.8,597.1 L831.0,602.1 L832.1,592.4 L832.9,637.9 L833.9,664.7 L834.8,662.2 L835.8,624.3 L836.7,602.8 L837.5,620.4 L838.3,619.0 L839.3,635.4 L840.2,670.3 L841.6,648.7 L842.7,635.6 L843.7,640.6 L844.7,670.8 L845.6,673.0 L846.6,664.0 L847.5,667.6 L848.3,669.5 L849.1,651.4 L850.1,661.1 L851.0,681.1 L852.0,681.1 L852.9,662.2 L854.0,669.2 L855.1,697.3 L856.1,707.6 L857.2,702.6 L858.2,692.7 L859.1,689.2 L860.1,706.2 L861.0,713.4 L861.8,719.1 L862.6,732.3 L863.6,723.3 L864.5,702.6 L865.5,708.4 L866.4,718.8 L867.5,724.1 L868.6,724.2 L869.9,722.9 L871.3,726.9 L872.6,743.8 L874.0,745.8 L875.0,733.8 L876.1,735.0 L877.1,736.9 L878.0,724.2 L878.9,711.1 L879.9,713.4 L881.0,715.7 L882.0,705.3 L883.1,712.8 L884.2,737.7 L885.1,722.9 L886.1,697.3 L887.0,692.6 L888.0,702.6 L888.8,698.6 L889.6,686.5 L890.5,693.3 L891.5,713.4 L892.4,709.3 L893.4,697.3 L894.5,687.2 L895.5,691.9 L896.5,685.8 L897.4,659.5 L898.5,645.0 L899.6,650.0 L900.5,675.6 L901.5,681.1 L902.5,685.5 L903.6,697.3 L904.7,688.4 L905.8,656.8 L906.7,652.7 L907.7,664.9 L908.6,659.6 L909.6,637.9 L910.6,646.9 L911.7,670.3 L912.8,693.5 L913.9,694.6 L914.8,689.6 L915.8,697.3 L916.7,712.3 L917.7,718.8 L918.7,711.1 L919.8,716.1 L920.9,698.2 L922.0,670.3 L922.9,687.0 L923.9,713.4 L924.8,712.4 L925.7,702.6 L926.8,704.8 L927.9,724.2 L929.0,739.1 L930.1,737.7 L931.0,720.8 L932.0,713.4 L932.9,725.9 L933.8,724.2 L934.9,727.2 L936.0,735.0 L937.1,734.4 L938.2,718.8 L939.1,721.1 L940.0,729.6 L941.0,729.4 L941.9,718.8 L942.7,708.8 L943.6,708.0 L944.5,726.4 L945.4,729.6 L946.4,722.1 L947.3,724.2 L948.4,723.1 L949.5,716.1 L950.8,724.4 L952.2,745.8 L953.3,732.3 L954.3,708.0 L955.3,708.2 L956.2,716.1 L957.2,721.1 L958.1,713.4 L959.1,708.4 L960.0,716.1 L960.8,718.5 L961.6,708.0 L962.5,711.8 L963.4,728.7 L964.2,720.4 L965.0,705.4 L965.9,695.8 L966.8,692.5 L967.7,699.7 L968.6,700.2 L969.6,695.2 L970.7,705.4 L972.0,698.0 L973.3,679.6 L974.3,676.8 L975.3,687.3 L976.2,709.7 L977.1,710.6 L978.0,666.6 L978.9,633.0 L979.7,645.8 L980.5,640.8 L981.4,648.9 L982.3,679.6 L983.2,678.4 L984.1,664.1 L985.2,635.2 L986.2,635.6 L987.2,678.1 L988.3,695.1 L989.2,678.6 L990.1,671.8 L991.0,670.2 L991.9,648.6 L992.9,648.1 L993.9,674.4 L995.0,675.4 L996.0,658.9 L996.9,639.3 L997.8,638.2 L998.7,630.8 L999.6,593.0 L1000.4,598.7 L1001.2,617.5 L1002.1,653.7 L1003.0,674.4 L1003.9,645.4 L1004.8,627.9 L1005.6,645.6 L1006.3,643.4 L1007.2,654.5 L1008.2,684.7 L1009.1,708.7 L1010.0,718.3 L1011.0,707.1 L1012.0,705.4 L1013.1,712.1 L1014.1,710.6 L1015.0,710.3 L1015.9,726.1 L1016.8,721.0 L1017.7,702.8 L1018.8,709.7 L1019.8,731.3 L1021.1,735.7 L1022.4,733.8 L1023.4,728.8 L1024.4,736.4 L1025.3,739.1 L1026.2,720.9 L1027.2,708.2 L1028.1,713.2 L1029.1,736.1 L1030.1,736.4 L1031.2,711.8 L1032.2,695.1 L1033.1,687.8 L1034.0,661.5 L1034.9,692.3 L1035.8,736.4 L1036.8,727.6 L1037.9,710.6 L1038.9,703.0 L1039.9,708.0 L1040.9,719.6 L1041.8,720.9 L1042.7,695.4 L1043.6,695.1 L1044.6,704.7 L1045.6,700.2 L1046.7,700.5 L1047.7,720.9 L1048.6,681.7 L1049.5,635.6 L1050.4,639.9 L1051.3,658.9 L1052.4,663.9 L1053.4,656.3 L1054.4,657.7 L1055.5,674.4 L1056.4,684.6 L1057.3,679.6 L1058.2,679.4 L1059.1,695.1 L1060.1,711.5 L1061.1,715.8 L1062.2,697.3 L1063.2,687.3 L1064.1,687.3 L1065.0,679.6 L1065.9,668.9 L1066.8,666.6 L1067.9,664.1 L1068.9,643.4 L1069.9,630.2 L1071.0,627.9 L1071.9,632.9 L1072.8,625.3 L1073.7,608.2 L1074.6,609.8 L1075.6,631.0 L1076.6,633.0 L1077.6,643.7 L1078.5,674.4 L1079.2,674.2 L1080.0,653.7 L1080.8,651.8 L1081.6,666.6 L1082.5,684.8 L1083.4,687.3 L1084.5,676.3 L1085.5,674.4 L1086.8,638.2 L1087.7,643.3 L1088.6,656.3 L1089.6,652.1 L1090.7,635.6 L1091.7,621.7 L1092.7,622.7 L1093.6,651.1 L1094.6,664.1 L1095.8,643.4 L1096.9,632.6 L1097.9,615.0 L1098.8,618.6 L1099.7,638.2 L1100.6,645.2 L1101.5,640.8 L1102.3,649.2 L1103.1,669.2 L1104.0,682.5 L1104.9,689.9 L1105.8,697.3 L1106.7,718.3 L1107.7,725.9 L1108.8,720.9 L1109.8,716.9 L1110.8,726.1 L1111.7,726.9 L1112.6,720.9 L1113.6,722.3 L1114.5,728.7 L1115.2,744.0 L1116.0,739.0 L1116.9,716.9 L1117.8,710.6 L1118.7,733.0 L1119.6,733.8 L1120.7,712.8 L1121.7,705.4 L1122.7,724.0 L1123.8,720.9 L1124.7,686.0 L1125.6,661.5 L1126.5,683.3 L1127.4,695.1 L1128.4,682.3 L1129.4,687.3 L1130.5,689.1 L1131.5,666.6 L1132.4,667.1 L1133.3,684.7 L1134.2,672.2 L1135.1,638.2 L1135.9,637.9 L1136.7,658.9 L1137.6,648.6 L1138.5,625.3 L1139.4,637.8 L1140.3,658.9 L1141.3,685.4 L1142.4,692.5 L1143.4,676.2 L1144.4,674.4 L1145.3,701.0 L1146.2,700.2 L1147.2,676.6 L1148.1,664.1 L1149.1,685.8 L1150.1,689.9 L1151.2,671.2 L1152.2,664.1 L1153.1,666.0 L1154.0,653.7 L1155.0,639.2 L1156.1,635.6 L1157.0,634.8 L1157.9,622.7 L1158.9,599.0 L1159.9,594.3 L1160.9,619.1 L1161.8,625.3 L1162.7,610.2 L1163.6,615.0 L1164.6,645.8 L1165.6,651.1 L1166.7,628.3 L1167.7,630.5 L1168.6,645.7 L1169.5,643.4 L1170.4,641.4 L1171.3,664.1 L1172.4,642.5 L1173.4,602.0 L1174.4,597.0 L1175.5,604.6 L1176.7,583.9 L1177.7,590.9 L1178.6,607.2 L1179.5,634.3 L1180.4,638.2 L1181.1,633.2 L1181.9,643.4 L1182.8,651.2 L1183.7,651.1 L1184.6,641.2 L1185.5,638.2 L1186.6,647.3 L1187.6,643.4 L1188.9,591.7 L1190.2,550.3 L1190.5,531.4 L1191.9,493.3 L1192.7,483.6 L1193.6,488.6 L1194.4,484.2 L1195.2,462.4 L1196.7,519.5 L1197.5,546.6 L1198.3,555.2 L1199.2,550.2 L1200.0,562.4 L1201.4,531.4 L1202.3,506.9 L1203.1,502.9 L1203.9,533.6 L1204.8,550.5 L1206.2,507.6 L1207.0,501.9 L1207.9,471.9 L1208.6,431.9 L1209.8,493.9 L1211.0,531.4 L1211.8,531.2 L1212.6,567.1 L1213.8,550.5 L1215.0,518.3 L1215.8,562.8 L1216.7,589.8 L1217.6,571.7 L1218.6,576.7 L1219.5,624.3 L1220.5,625.5 L1221.3,588.3 L1222.1,593.3 L1223.0,586.5 L1223.8,541.0 L1225.2,602.9 L1226.1,592.4 L1226.9,555.2 L1228.1,498.1 L1229.0,561.8 L1230.0,605.2 L1230.8,543.1 L1231.7,531.4 L1232.5,596.4 L1233.3,598.1 L1234.3,546.0 L1235.2,526.7 L1236.2,560.2 L1237.1,555.2 L1238.0,487.4 L1238.8,483.8 L1239.5,611.2 L1240.5,531.4 L1241.2,436.7 L1242.0,417.4 L1242.9,422.4 L1244.3,405.7 L1245.1,404.3 L1246.0,436.7 L1247.1,412.9 L1248.1,416.0 L1249.0,451.0 L1249.9,464.8 L1250.7,460.5 L1251.9,377.1 L1253.1,382.1 L1254.3,374.8 L1255.2,380.4 L1256.2,403.3 L1257.0,389.9 L1257.9,341.4 L1258.7,308.6 L1259.5,295.0 L1260.5,303.6 L1261.4,298.6 L1262.4,294.8 L1263.3,320.0 L1264.3,403.3 L1265.2,408.5 L1266.2,436.7 L1267.1,421.0 L1268.1,389.0 L1268.9,379.3 L1269.8,384.3 L1270.6,384.1 L1271.4,356.9 L1272.6,483.8 L1273.3,412.9 L1274.5,424.8 L1274.5,467.1 L1275.4,425.8 L1276.2,422.4 L1276.9,476.7 L1278.1,460.5 L1279.3,479.0 L1280.0,474.8 L1281.2,365.2 L1281.7,471.9 L1282.1,347.4 L1283.3,412.9 L1283.3,555.2 L1284.8,573.1 L1285.6,578.1 L1286.4,569.5 L1287.3,532.1 L1288.1,524.3 L1289.5,579.0 L1291.0,609.5 L1292.4,531.4 L1293.3,510.5 L1294.3,507.6 L1295.1,538.8 L1296.0,533.8 L1296.7,460.5 L1297.6,483.8 L1298.3,436.7 L1299.5,505.2 L1300.7,430.7 L1301.5,439.3 L1302.4,434.3 L1303.1,471.9 L1304.3,451.0 L1305.5,486.2 L1306.0,412.9 L1307.1,358.1 L1307.1,483.8 L1308.6,389.0 L1308.6,526.7 L1310.0,521.9 L1297.0,456.3 L1298.0,473.0 L1299.0,473.6 L1300.0,431.0 L1300.1,492.7 L1301.3,435.5 L1302.4,496.8 L1303.4,454.5 L1304.8,511.5 L1305.8,413.2 L1306.5,443.0 L1307.3,491.9 L1307.4,357.4 L1308.4,422.2 L1309.4,527.0 L1310.4,410.3 L1311.4,505.8 L1312.0,362.0 L1313.0,397.9 L1314.0,482.0 L1315.1,452.3 L1316.1,515.6 L1317.1,451.4 L1318.3,509.5 L1319.1,538.0 L1320.0,533.0 L1320.4,402.0 L1321.2,430.0 L1321.9,426.8 L1322.4,540.6 L1323.5,512.5 L1324.6,450.4 L1325.7,468.0 L1327.0,417.0 L1328.0,526.2 L1329.2,442.0 L1329.4,545.6 L1330.6,528.5 L1331.7,480.2 L1332.7,482.4 L1333.6,532.0 L1334.1,478.3 L1335.2,480.0 L1336.0,487.8 L1336.7,482.8 L1338.0,522.0 L1339.3,489.3 L1339.8,535.6 L1340.9,524.4 L1341.9,444.6 L1343.0,428.5 L1343.2,535.4 L1344.4,462.5 L1345.3,534.3 L1346.7,485.2 L1347.6,490.1 L1348.6,539.0 L1349.2,484.8 L1350.3,514.4 L1351.8,550.0 L1351.2,560.8 L1352.0,575.0 L1352.7,579.0 L1353.5,581.5 L1354.3,606.4 L1355.0,620.1 L1355.8,621.5 L1356.5,622.9 L1357.3,636.7 L1358.4,650.0 L1359.4,651.9 L1360.3,651.1 L1361.2,670.2 L1362.3,681.2 L1363.4,676.2 L1364.4,672.7 L1365.5,685.4 L1366.7,676.1 L1367.9,648.9 L1368.5,682.3 L1369.4,694.1 L1370.4,697.5 L1371.4,698.2 L1372.5,712.7 L1373.5,724.4 L1374.6,724.9 L1375.9,721.4 L1377.2,734.9 L1378.6,730.9 L1379.6,734.4 L1380.6,732.5 L1381.6,735.5 L1382.6,734.8 L1383.6,739.7 L1384.6,737.0 L1388.1,738.9 L1391.5,736.5 L1395.0,737.4 L1396.0,737.9 L1397.1,741.5 L1398.4,743.8 L1399.8,742.8 L1401.2,744.6 L1403.2,744.4 L1405.3,746.5 L1407.4,746.6 L1409.1,748.1 L1410.8,747.4 L1412.5,748.7 L1413.5,749.0 L1414.6,751.8 L1415.6,751.8 L1417.0,753.4 L1418.3,750.8 L1419.7,752.8 L1421.1,753.1 L1422.5,756.4 L1423.8,755.9 L1425.2,757.4 L1426.6,756.4 L1427.9,757.9 L1429.0,756.6 L1430.0,756.9 L1431.0,750.7 L1432.1,755.9 L1433.1,758.0 L1434.1,759.0 L1435.5,757.9 L1436.9,759.3 L1438.2,757.9 L1439.6,759.0 L1441.0,756.9 L1442.4,757.9 L1443.7,757.0 L1445.1,757.8 L1446.5,756.9 L1447.8,756.9 L1449.2,755.7 L1450.6,755.9 L1452.0,755.2 L1453.3,755.4 L1454.7,754.9 L1456.1,754.8 L1457.5,753.7 L1458.8,753.8 L1460.2,753.0 L1461.6,753.5 L1462.9,752.8 L1464.3,753.0 L1465.7,751.9 L1467.1,752.3 L1468.1,752.1 L1469.1,753.9 L1470.1,753.8 L1471.2,754.7 L1472.2,753.9 L1473.2,754.9 L1474.3,753.6 L1475.3,755.0 L1476.3,753.8 L1477.4,755.5 L1478.4,754.2 L1479.4,755.9 L1480.7,753.9 L1482.0,753.8 L1483.0,743.5 L1483.8,742.3 L1484.6,742.5 L1485.6,751.8 L1486.6,755.9 L1487.6,756.1 L1488.7,753.4 L1489.7,753.8 L1491.1,751.5 L1492.5,753.7 L1493.8,752.8 L1495.2,754.2 L1496.6,751.9 L1497.9,752.8 L1499.3,752.2 L1500.7,753.4 L1502.1,752.3" fill="none" stroke="#00BFBF" stroke-width="3.15" stroke-linejoin="bevel" clip-path="url(#c)"/>
<path d="M1501.5,757.9 L1503.1,756.3 L1504.6,757.7 L1506.2,755.9 L1507.6,756.3 L1508.9,753.3 L1510.3,753.8 L1511.7,753.9 L1513.0,756.5 L1514.4,755.9 L1515.8,755.7 L1517.2,752.8 L1518.5,752.8 L1519.6,751.1 L1520.6,752.6 L1521.6,750.7 L1522.7,753.4 L1523.7,754.9 L1524.7,754.6 L1525.7,756.5 L1526.8,755.9 L1527.8,755.6 L1528.8,752.9 L1529.9,752.8 L1530.9,751.9 L1531.9,753.1 L1532.9,751.8 L1534.0,751.7 L1535.0,750.3 L1536.0,750.7 L1537.1,751.8 L1538.1,753.8 L1539.1,753.7 L1540.2,752.5 L1541.2,752.8 L1542.2,752.2 L1543.2,752.5 L1544.3,751.8 L1545.3,752.1 L1546.3,751.5 L1547.4,751.8 L1548.7,751.8 L1550.1,752.7 L1551.5,752.8 L1552.5,754.2 L1553.5,753.9 L1554.6,754.9" fill="none" stroke="#00BFBF" stroke-width="3.15" stroke-linejoin="bevel" clip-path="url(#c)"/>
<line x1="107.0" y1="763.5" x2="1560.0" y2="763.5" stroke="#262626" stroke-width="1"/>
<line x1="176.5" y1="763.5" x2="176.5" y2="748.5" stroke="#262626" stroke-width="1"/>
<text x="176.2" y="819.3" font-size="42.0" fill="#262626" text-anchor="middle">120</text>
<line x1="406.5" y1="763.5" x2="406.5" y2="748.5" stroke="#262626" stroke-width="1"/>
<text x="406.2" y="819.3" font-size="42.0" fill="#262626" text-anchor="middle">100</text>
<line x1="637.5" y1="763.5" x2="637.5" y2="748.5" stroke="#262626" stroke-width="1"/>
<text x="637.2" y="819.3" font-size="42.0" fill="#262626" text-anchor="middle">80</text>
<line x1="867.5" y1="763.5" x2="867.5" y2="748.5" stroke="#262626" stroke-width="1"/>
<text x="867.2" y="819.3" font-size="42.0" fill="#262626" text-anchor="middle">60</text>
<line x1="1098.5" y1="763.5" x2="1098.5" y2="748.5" stroke="#262626" stroke-width="1"/>
<text x="1098.2" y="819.3" font-size="42.0" fill="#262626" text-anchor="middle">40</text>
<line x1="1328.5" y1="763.5" x2="1328.5" y2="748.5" stroke="#262626" stroke-width="1"/>
<text x="1328.2" y="819.3" font-size="42.0" fill="#262626" text-anchor="middle">20</text>
<line x1="1559.5" y1="763.5" x2="1559.5" y2="748.5" stroke="#262626" stroke-width="1"/>
<text x="1559.2" y="819.3" font-size="42.0" fill="#262626" text-anchor="middle">0</text>
<line x1="107.5" y1="15.0" x2="107.5" y2="764.0" stroke="#BF00BF" stroke-width="1"/>
<line x1="107.5" y1="763.5" x2="122.5" y2="763.5" stroke="#BF00BF" stroke-width="1"/>
<text x="94.5" y="779.8" font-size="42.0" fill="#BF00BF" text-anchor="end">0</text>
<line x1="107.5" y1="613.5" x2="122.5" y2="613.5" stroke="#BF00BF" stroke-width="1"/>
<text x="94.5" y="629.8" font-size="42.0" fill="#BF00BF" text-anchor="end">5</text>
<line x1="107.5" y1="464.5" x2="122.5" y2="464.5" stroke="#BF00BF" stroke-width="1"/>
<text x="94.5" y="480.8" font-size="42.0" fill="#BF00BF" text-anchor="end">10</text>
<line x1="107.5" y1="314.5" x2="122.5" y2="314.5" stroke="#BF00BF" stroke-width="1"/>
<text x="94.5" y="330.8" font-size="42.0" fill="#BF00BF" text-anchor="end">15</text>
<line x1="107.5" y1="165.5" x2="122.5" y2="165.5" stroke="#BF00BF" stroke-width="1"/>
<text x="94.5" y="181.8" font-size="42.0" fill="#BF00BF" text-anchor="end">20</text>
<line x1="107.5" y1="15.5" x2="122.5" y2="15.5" stroke="#BF00BF" stroke-width="1"/>
<text x="94.5" y="30.8" font-size="42.0" fill="#BF00BF" text-anchor="end">25</text>
<line x1="1559.5" y1="15.0" x2="1559.5" y2="764.0" stroke="#00BFBF" stroke-width="1"/>
<line x1="1559.5" y1="763.5" x2="1544.5" y2="763.5" stroke="#00BFBF" stroke-width="1"/>
<text x="1571.7" y="779.8" font-size="42.0" fill="#00BFBF" text-anchor="start">0</text>
<line x1="1559.5" y1="638.5" x2="1544.5" y2="638.5" stroke="#00BFBF" stroke-width="1"/>
<text x="1571.7" y="654.8" font-size="42.0" fill="#00BFBF" text-anchor="start">20</text>
<line x1="1559.5" y1="514.5" x2="1544.5" y2="514.5" stroke="#00BFBF" stroke-width="1"/>
<text x="1571.7" y="530.8" font-size="42.0" fill="#00BFBF" text-anchor="start">40</text>
<line x1="1559.5" y1="389.5" x2="1544.5" y2="389.5" stroke="#00BFBF" stroke-width="1"/>
<text x="1571.7" y="405.8" font-size="42.0" fill="#00BFBF" text-anchor="start">60</text>
<line x1="1559.5" y1="264.5" x2="1544.5" y2="264.5" stroke="#00BFBF" stroke-width="1"/>
<text x="1571.7" y="280.8" font-size="42.0" fill="#00BFBF" text-anchor="start">80</text>
<line x1="1559.5" y1="140.5" x2="1544.5" y2="140.5" stroke="#00BFBF" stroke-width="1"/>
<text x="1571.7" y="156.8" font-size="42.0" fill="#00BFBF" text-anchor="start">100</text>
<line x1="1559.5" y1="15.5" x2="1544.5" y2="15.5" stroke="#00BFBF" stroke-width="1"/>
<text x="1571.7" y="30.8" font-size="42.0" fill="#00BFBF" text-anchor="start">120</text>
<text transform="translate(748.6,873) scale(1,1.035)" font-size="40.95" fill="#262626" xml:space="preserve">Age / ka</text>
<text transform="translate(32,555) rotate(-90)" font-size="41.67" fill="#BF00BF" xml:space="preserve">Magnesium  / ppb</text>
<text transform="translate(1691,522.5) rotate(-90)" font-size="41.5" fill="#00BFBF" xml:space="preserve">Calcium  / ppb</text>
<path d="M1530.6,736.6 L1566.4,736.6 L1560.5,725.4 L1536.7,725.4 Z" fill="#000"/>
<path d="M724.2,736.4 L736.8,736.4 L730.5,725.5 Z" fill="none" stroke="#000" stroke-width="1"/>
<path d="M819.7,736.4 L832.3,736.4 L826.0,725.5 Z" fill="none" stroke="#000" stroke-width="1"/>
<path d="M866.7,736.4 L879.3,736.4 L873.0,725.5 Z" fill="none" stroke="#000" stroke-width="1"/>
<path d="M938.3,736.4 L950.9,736.4 L944.6,725.5 Z" fill="none" stroke="#000" stroke-width="1"/>
<path d="M1043.7,736.4 L1056.3,736.4 L1050.0,725.5 Z" fill="none" stroke="#000" stroke-width="1"/>
<path d="M1067.6,736.4 L1080.2,736.4 L1073.9,725.5 Z" fill="none" stroke="#000" stroke-width="1"/>
<path d="M1070.9,736.4 L1083.5,736.4 L1077.2,725.5 Z" fill="none" stroke="#000" stroke-width="1"/>
<path d="M1081.3,736.4 L1093.9,736.4 L1087.6,725.5 Z" fill="none" stroke="#000" stroke-width="1"/>
<path d="M1087.0,736.4 L1099.6,736.4 L1093.3,725.5 Z" fill="none" stroke="#000" stroke-width="1"/>
<path d="M1092.6,736.4 L1105.2,736.4 L1098.9,725.5 Z" fill="none" stroke="#000" stroke-width="1"/>
<path d="M1096.8,736.4 L1109.4,736.4 L1103.1,725.5 Z" fill="none" stroke="#000" stroke-width="1"/>
<path d="M1101.2,736.4 L1113.8,736.4 L1107.5,725.5 Z" fill="none" stroke="#000" stroke-width="1"/>
<path d="M1182.6,736.4 L1195.2,736.4 L1188.9,725.5 Z" fill="none" stroke="#000" stroke-width="1"/>
<path d="M1256.7,736.4 L1269.3,736.4 L1263.0,725.5 Z" fill="none" stroke="#000" stroke-width="1"/>
<path d="M1284.7,736.4 L1297.3,736.4 L1291.0,725.5 Z" fill="none" stroke="#000" stroke-width="1"/>
<path d="M1383.8,736.4 L1396.4,736.4 L1390.1,725.5 Z" fill="none" stroke="#000" stroke-width="1"/>
<path d="M1530.7,736.4 L1543.3,736.4 L1537.0,725.5 Z" fill="none" stroke="#000" stroke-width="1"/>
<path d="M1531.7,736.4 L1544.3,736.4 L1538.0,725.5 Z" fill="none" stroke="#000" stroke-width="1"/>
<path d="M1532.7,736.4 L1545.3,736.4 L1539.0,725.5 Z" fill="none" stroke="#000" stroke-width="1"/>
<path d="M1533.7,736.4 L1546.3,736.4 L1540.0,725.5 Z" fill="none" stroke="#000" stroke-width="1"/>
<path d="M1534.7,736.4 L1547.3,736.4 L1541.0,725.5 Z" fill="none" stroke="#000" stroke-width="1"/>
<path d="M1535.7,736.4 L1548.3,736.4 L1542.0,725.5 Z" fill="none" stroke="#000" stroke-width="1"/>
<path d="M1536.7,736.4 L1549.3,736.4 L1543.0,725.5 Z" fill="none" stroke="#000" stroke-width="1"/>
<path d="M1537.7,736.4 L1550.3,736.4 L1544.0,725.5 Z" fill="none" stroke="#000" stroke-width="1"/>
<path d="M1538.7,736.4 L1551.3,736.4 L1545.0,725.5 Z" fill="none" stroke="#000" stroke-width="1"/>
<path d="M1539.7,736.4 L1552.3,736.4 L1546.0,725.5 Z" fill="none" stroke="#000" stroke-width="1"/>
<path d="M1540.7,736.4 L1553.3,736.4 L1547.0,725.5 Z" fill="none" stroke="#000" stroke-width="1"/>
<path d="M1541.7,736.4 L1554.3,736.4 L1548.0,725.5 Z" fill="none" stroke="#000" stroke-width="1"/>
<path d="M1542.7,736.4 L1555.3,736.4 L1549.0,725.5 Z" fill="none" stroke="#000" stroke-width="1"/>
<path d="M1543.7,736.4 L1556.3,736.4 L1550.0,725.5 Z" fill="none" stroke="#000" stroke-width="1"/>
<path d="M1544.7,736.4 L1557.3,736.4 L1551.0,725.5 Z" fill="none" stroke="#000" stroke-width="1"/>
<path d="M1545.7,736.4 L1558.3,736.4 L1552.0,725.5 Z" fill="none" stroke="#000" stroke-width="1"/>
<path d="M1546.7,736.4 L1559.3,736.4 L1553.0,725.5 Z" fill="none" stroke="#000" stroke-width="1"/>
<path d="M1547.7,736.4 L1560.3,736.4 L1554.0,725.5 Z" fill="none" stroke="#000" stroke-width="1"/>
<path d="M1548.7,736.4 L1561.3,736.4 L1555.0,725.5 Z" fill="none" stroke="#000" stroke-width="1"/>
<path d="M1549.7,736.4 L1562.3,736.4 L1556.0,725.5 Z" fill="none" stroke="#000" stroke-width="1"/>
<path d="M1550.7,736.4 L1563.3,736.4 L1557.0,725.5 Z" fill="none" stroke="#000" stroke-width="1"/>
<path d="M1551.7,736.4 L1564.3,736.4 L1558.0,725.5 Z" fill="none" stroke="#000" stroke-width="1"/>
<path d="M1552.7,736.4 L1565.3,736.4 L1559.0,725.5 Z" fill="none" stroke="#000" stroke-width="1"/>
<path d="M1553.7,736.4 L1566.3,736.4 L1560.0,725.5 Z" fill="none" stroke="#000" stroke-width="1"/>
<circle cx="162.4" cy="745.2" r="4.1" fill="#000"/>
<circle cx="175.9" cy="745.2" r="4.1" fill="#000"/>
<circle cx="192.1" cy="745.2" r="4.1" fill="#000"/>
<circle cx="208.4" cy="745.2" r="4.1" fill="#000"/>
<circle cx="332.9" cy="745.2" r="4.1" fill="#000"/>
<circle cx="345.9" cy="745.2" r="4.1" fill="#000"/>
<circle cx="456.1" cy="745.2" r="4.1" fill="#000"/>
<circle cx="558.5" cy="745.2" r="4.1" fill="#000"/>
<circle cx="591.4" cy="745.2" r="4.1" fill="#000"/>
<circle cx="675.8" cy="745.2" r="4.1" fill="#000"/>
<circle cx="868.7" cy="745.2" r="4.1" fill="#000"/>
<circle cx="924.7" cy="745.2" r="4.1" fill="#000"/>
<circle cx="933.3" cy="745.2" r="4.1" fill="#000"/>
<circle cx="972.0" cy="745.2" r="4.1" fill="#000"/>
<circle cx="1021.1" cy="745.2" r="4.1" fill="#000"/>
<circle cx="1050.3" cy="745.2" r="4.1" fill="#000"/>
<circle cx="1060.6" cy="745.2" r="4.1" fill="#000"/>
<circle cx="1082.4" cy="745.2" r="4.1" fill="#000"/>
<circle cx="1090.2" cy="745.2" r="4.1" fill="#000"/>
<circle cx="1118.6" cy="745.2" r="4.1" fill="#000"/>
<circle cx="1149.6" cy="745.2" r="4.1" fill="#000"/>
<circle cx="1158.7" cy="745.2" r="4.1" fill="#000"/>
<circle cx="1183.7" cy="745.2" r="4.1" fill="#000"/>
<circle cx="1197.9" cy="745.2" r="4.1" fill="#000"/>
<circle cx="1225.0" cy="745.2" r="4.1" fill="#000"/>
<circle cx="1280.0" cy="745.2" r="4.1" fill="#000"/>
<circle cx="1307.8" cy="745.2" r="4.1" fill="#000"/>
<circle cx="1351.8" cy="745.2" r="4.1" fill="#000"/>
<circle cx="1386.0" cy="745.2" r="4.1" fill="#000"/>
<circle cx="1390.5" cy="745.2" r="4.1" fill="#000"/>
<circle cx="1396.0" cy="745.2" r="4.1" fill="#000"/>
<circle cx="1400.7" cy="745.2" r="4.1" fill="#000"/>
<circle cx="1405.3" cy="745.2" r="4.1" fill="#000"/>
<circle cx="1410.4" cy="745.2" r="4.1" fill="#000"/>
<circle cx="1424.9" cy="745.2" r="4.1" fill="#000"/>
<circle cx="1429.5" cy="745.2" r="4.1" fill="#000"/>
<circle cx="1465.0" cy="745.2" r="4.1" fill="#000"/>
<circle cx="1490.2" cy="745.2" r="4.1" fill="#000"/>
<circle cx="1497.9" cy="745.2" r="4.1" fill="#000"/>
<circle cx="1503.1" cy="745.2" r="4.1" fill="#000"/>
<circle cx="1514.4" cy="745.2" r="4.1" fill="#000"/>
<circle cx="1518.5" cy="745.2" r="4.1" fill="#000"/>
<circle cx="1545.3" cy="745.2" r="4.1" fill="#000"/>
<circle cx="1549.4" cy="745.2" r="4.1" fill="#000"/>
<circle cx="1554.6" cy="745.2" r="4.1" fill="#000"/>
<rect x="209" y="42.3" width="62.6" height="31.3" fill="#CCCCCC"/>
<line x1="209" y1="100.4" x2="271.6" y2="100.4" stroke="#BF00BF" stroke-width="3.3"/>
<line x1="209" y1="143.4" x2="271.6" y2="143.4" stroke="#00BFBF" stroke-width="3.3"/>
<path d="M234.0,190.1 L246.6,190.1 L240.3,179.2 Z" fill="none" stroke="#000" stroke-width="1"/>
<circle cx="240.3" cy="229.5" r="4.3" fill="#000"/>
<text x="275.2" y="70.9" font-size="33.33" fill="#000">uncertain age</text>
<text x="275.2" y="113.3" font-size="33.33" fill="#000">Skytrain nssMg</text>
<text x="275.2" y="155.7" font-size="33.33" fill="#000">EPICA Ca</text>
<text x="275.2" y="198.1" font-size="33.33" fill="#000">age horizon - ice</text>
<text x="275.2" y="240.5" font-size="33.33" fill="#000">age horizon - air</text>
</svg>
</body></html>
